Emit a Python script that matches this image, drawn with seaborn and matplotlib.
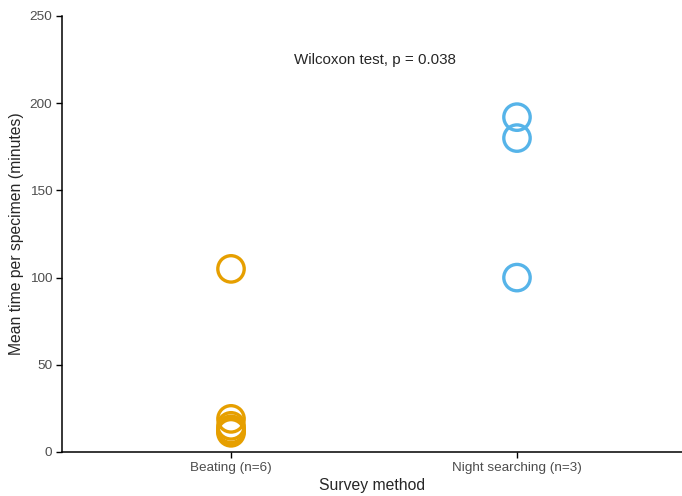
import matplotlib
matplotlib.use("Agg")
import matplotlib.pyplot as plt
import seaborn as sns
import pandas as pd

# values
beating = [105, 19, 15, 13, 12, 11]
night = [192, 180, 100]
categories = ["Beating (n=6)", "Night searching (n=3)"]
colors = ["#E69F00", "#56B4E9"]

df = pd.DataFrame({
    "method": [categories[0]] * len(beating) + [categories[1]] * len(night),
    "time": beating + night,
})

sns.set_style("white")
plt.rcParams["font.family"] = ["Liberation Sans", "DejaVu Sans"]

fig = plt.figure(figsize=(6.82, 4.96), dpi=100)
ax = fig.add_axes([62 / 682, 44 / 496, 620 / 682, 436 / 496])

sns.stripplot(data=df, x="method", y="time", hue="method", order=categories,
              palette=colors, jitter=False, size=19, linewidth=0, legend=False, ax=ax)

# open circles
for coll in ax.collections:
    fc = coll.get_facecolors()
    coll.set_edgecolors(fc)
    coll.set_facecolors("none")
    coll.set_linewidth(2.4)
    coll.set_clip_on(False)

ax.set_xlim(-0.591, 1.577)
ax.set_ylim(0, 250)
ax.set_yticks([0, 50, 100, 150, 200, 250])

ax.text(0.503, 224.8, "Wilcoxon test, p = 0.038", ha="center", va="center", fontsize=10.9)

ax.set_xlabel("Survey method", fontsize=11.3, labelpad=3)
ax.set_ylabel("Mean time per specimen (minutes)", fontsize=11.3)
ax.tick_params(axis="both", bottom=True, left=True, labelcolor="#4D4D4D", labelsize=9.7,
               length=4, width=1, color="black", direction="out", pad=3)
for side in ["top", "right"]:
    ax.spines[side].set_visible(False)
for side in ["left", "bottom"]:
    ax.spines[side].set_color("black")
    ax.spines[side].set_linewidth(1.1)

plt.savefig("out.png", dpi=100)
